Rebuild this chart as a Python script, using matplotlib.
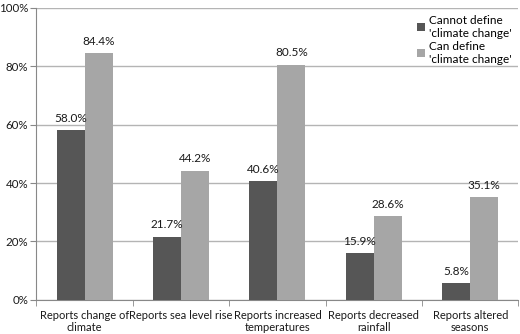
import matplotlib.pyplot as plt
import numpy as np

categories = ["Reports change of\nclimate", "Reports sea level rise",
              "Reports increased\ntemperatures", "Reports decreased\nrainfall",
              "Reports altered\nseasons"]
cannot_define = [58.0, 21.7, 40.6, 15.9, 5.8]
can_define = [84.4, 44.2, 80.5, 28.6, 35.1]
series_names = ["Cannot define\n'climate change'", "Can define\n'climate change'"]


def main():
    plt.rcParams["font.family"] = ["Lato", "DejaVu Sans"]
    fig = plt.figure(figsize=(5.2, 3.34), dpi=100)
    ax = fig.add_axes([0.07, 0.102, 0.927, 0.875])

    x = np.arange(len(categories))
    w = 0.29
    b1 = ax.bar(x - w / 2, cannot_define, w, color="#565656", zorder=3,
                label=series_names[0])
    b2 = ax.bar(x + w / 2, can_define, w, color="#a6a6a6", zorder=3,
                label=series_names[1])
    for bars in (b1, b2):
        for rect in bars:
            h = rect.get_height()
            ax.text(rect.get_x() + rect.get_width() / 2, h + 2.2, f"{h:.1f}%",
                    ha="center", va="bottom", fontsize=8.5, color="#1a1a1a")

    ax.set_xlim(-0.5, len(categories) - 0.5)
    ax.set_ylim(0, 100)
    ax.set_yticks(range(0, 101, 20))
    ax.set_yticklabels([f"{v}%" for v in range(0, 101, 20)], fontsize=8.3,
                       color="#1a1a1a")
    ax.set_xticks(x)
    ax.set_xticklabels(categories, fontsize=8, color="#1a1a1a",
                       linespacing=1.15)
    ax.set_xticks(np.arange(-0.5, len(categories)), minor=True)
    ax.tick_params(axis="x", which="major", length=0, pad=7)
    ax.tick_params(axis="x", which="minor", length=4, color="#888888")
    ax.tick_params(axis="y", length=4, color="#888888", pad=2)

    ax.grid(axis="y", color="#b4b4b4", linewidth=1, zorder=0)
    for s in ["top", "right"]:
        ax.spines[s].set_visible(False)
    for s in ["left", "bottom"]:
        ax.spines[s].set_color("#888888")

    leg = ax.legend(loc="upper right", bbox_to_anchor=(1.0, 1.0), frameon=False,
                    fontsize=8.5, handlelength=0.7, handleheight=0.7,
                    handletextpad=0.3, labelspacing=0.2, borderaxespad=0.2)
    leg.set_zorder(5)

    fig.savefig("out.png", dpi=100)


if __name__ == "__main__":
    main()
